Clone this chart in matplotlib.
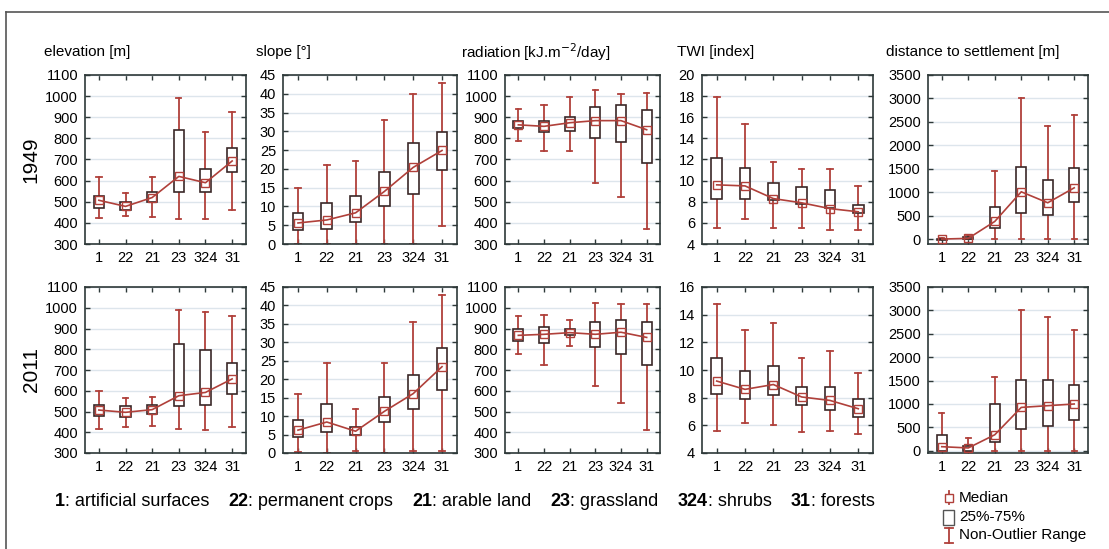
import matplotlib
matplotlib.use("Agg")
import matplotlib.pyplot as plt
from matplotlib.lines import Line2D
from matplotlib.patches import Rectangle

# land cover classes on the x axis
cats = ['1', '22', '21', '23', '324', '31']

# each row: whisker low, 25%, median, 75%, whisker high (one row per class)
elev_1949 = [(425, 470, 507, 525, 615), (432, 462, 478, 500, 540), (428, 500, 520, 545, 618),
             (420, 544, 620, 838, 990), (416, 544, 590, 655, 830), (463, 639, 693, 754, 925)]
slope_1949 = [(0, 3.8, 5.6, 8.2, 14.8), (0, 4.0, 6.4, 10.9, 21.1), (0, 5.8, 8.3, 12.7, 22.0),
              (0, 10.2, 14.0, 19.2, 33.0), (0, 13.2, 20.4, 27.0, 40.0), (4.9, 19.7, 24.9, 29.9, 42.8)]
rad_1949 = [(788, 847, 864, 884, 938), (741, 828, 857, 881, 957), (741, 836, 874, 900, 994),
            (590, 804, 884, 947, 1027), (523, 785, 884, 959, 1011), (372, 685, 841, 932, 1016)]
twi_1949 = [(5.55, 8.3, 9.6, 12.1, 17.9), (6.35, 8.3, 9.5, 11.2, 15.4), (5.5, 8.2, 8.3, 9.8, 11.8),
            (5.5, 7.8, 7.9, 9.4, 11.1), (5.35, 7.4, 7.35, 9.1, 11.1), (5.35, 6.9, 7.05, 7.7, 9.45)]
dist_1949 = [(0, -5, 5, 15, 30), (0, 0, 20, 40, 95), (0, 235, 380, 698, 1447),
             (0, 556, 1012, 1539, 3000), (0, 520, 778, 1268, 2405), (0, 798, 1097, 1518, 2640)]

elev_2011 = [(418, 477, 507, 530, 597), (424, 472, 496, 525, 565), (432, 489, 509, 530, 570),
             (417, 525, 576, 827, 988), (412, 530, 592, 798, 978), (424, 585, 657, 735, 959)]
slope_2011 = [(0.2, 4.4, 6.2, 8.9, 16.0), (0, 5.7, 8.4, 13.4, 24.3), (0.5, 4.8, 5.9, 7.1, 11.8),
              (0, 8.4, 11.3, 15.2, 24.5), (0.5, 11.8, 16.1, 21.1, 35.6), (0.5, 17.2, 23.4, 28.4, 42.7)]
rad_2011 = [(779, 839, 867, 896, 960), (725, 831, 872, 906, 965), (818, 868, 880, 896, 940),
            (621, 811, 872, 933, 1025), (540, 779, 882, 941, 1019), (410, 725, 857, 933, 1017)]
twi_2011 = [(5.6, 8.3, 9.2, 10.9, 14.8), (6.15, 7.9, 8.6, 9.9, 12.9), (6.0, 8.2, 8.95, 10.3, 13.4),
            (5.5, 7.5, 8.05, 8.8, 10.9), (5.6, 7.1, 7.8, 8.8, 11.35), (5.35, 6.6, 7.2, 7.9, 9.8)]
dist_2011 = [(0, 0, 85, 325, 810), (0, 0, 58, 108, 275), (0, 195, 340, 990, 1569),
             (0, 470, 925, 1518, 3000), (0, 520, 962, 1518, 2855), (0, 650, 998, 1410, 2588)]

titles = ['elevation [m]', 'slope [°]', 'radiation [kJ.m$^{-2}$/day]', 'TWI [index]',
          'distance to settlement [m]']
years = ['1949', '2011']

legend_nums = ['1', '22', '21', '23', '324', '31']
legend_names = ['artificial surfaces', 'permanent crops', 'arable land', 'grassland', 'shrubs', 'forests']

RED = '#b0403a'
BOXC = '#3a2828'
SPINE = '#2d3838'
GRID = '#dde5ec'
W, H = 1109, 549

rows = [[elev_1949, slope_1949, rad_1949, twi_1949, dist_1949],
        [elev_2011, slope_2011, rad_2011, twi_2011, dist_2011]]
ylims = [[(300, 1100), (0, 45), (300, 1100), (4, 20), (-100, 3500)],
         [(300, 1100), (0, 45), (300, 1100), (4, 16), (-50, 3500)]]
ysteps = [100, 5, 100, 2, 500]

# panel positions in pixels
xcols = [(85, 246), (283, 457), (505, 660), (702, 873), (928, 1088)]
yrows = [(75, 244), (287, 453)]
title_x = [44, 256, 461, 677, 886]

fig = plt.figure(figsize=(W / 100, H / 100), dpi=100)
fig.patch.set_facecolor('white')
plt.rcParams['font.family'] = ['Liberation Sans', 'DejaVu Sans']

for r, panels in enumerate(rows):
    y0, y1 = yrows[r]
    for c, data in enumerate(panels):
        x0, x1 = xcols[c]
        ax = fig.add_axes([x0 / W, 1 - y1 / H, (x1 - x0) / W, (y1 - y0) / H])
        stats = [dict(whislo=d[0], q1=d[1], med=d[2], q3=d[3], whishi=d[4]) for d in data]
        pos = list(range(1, len(cats) + 1))
        ax.bxp(stats, positions=pos, widths=0.38, capwidths=0.2, showfliers=False,
               patch_artist=True,
               boxprops=dict(facecolor='white', edgecolor=BOXC, linewidth=1.2, zorder=3),
               whiskerprops=dict(color=RED, linewidth=1.3, zorder=2),
               capprops=dict(color=RED, linewidth=1.3, zorder=2),
               medianprops=dict(visible=False))
        meds = [d[2] for d in data]
        ax.plot(pos, meds, color=RED, lw=1.2, marker='s', ms=5.5, mfc='none',
                mec=RED, mew=1.0, zorder=4)
        lo, hi = ylims[r][c]
        ax.set_ylim(lo, hi)
        ax.set_xlim(0.48, 6.52)
        step = ysteps[c]
        start = lo if lo >= 0 else 0
        ax.set_yticks([start + i * step for i in range(int((hi - start) / step) + 1)])
        ax.set_xticks(pos)
        ax.set_xticklabels(cats)
        ax.yaxis.grid(True, color=GRID, lw=1.0)
        ax.set_axisbelow(True)
        ax.tick_params(direction='in', length=3.5, width=1, color=SPINE,
                       top=True, right=True, labelsize=10.5, pad=5)
        for s in ax.spines.values():
            s.set_color(SPINE)
            s.set_linewidth(1.2)
        if r == 0:
            fig.text(title_x[c] / W, 1 - 52 / H, titles[c], fontsize=11,
                     ha='left', va='center')

fig.text(31 / W, 1 - 160 / H, years[0], rotation=90, fontsize=15, ha='center', va='center')
fig.text(31 / W, 1 - 370 / H, years[1], rotation=90, fontsize=15, ha='center', va='center')

# class legend along the bottom, built piece by piece
renderer = fig.canvas.get_renderer()
x = 55
ly = 1 - 501 / H
for num, name in zip(legend_nums, legend_names):
    t = fig.text(x / W, ly, num, fontsize=13, fontweight='bold', ha='left', va='center')
    x = t.get_window_extent(renderer).x1
    t = fig.text(x / W, ly, ': ' + name, fontsize=13, ha='left', va='center')
    x = t.get_window_extent(renderer).x1 + 19

# symbol key
kx = 949
fig.add_artist(Line2D([kx / W, kx / W], [1 - 491 / H, 1 - 504 / H], color=RED, lw=1.3))
fig.add_artist(Line2D([kx / W], [1 - 497.5 / H], marker='s', ms=5.5, mfc='white', mec=RED, mew=1.0))
fig.text(959 / W, 1 - 498 / H, 'Median', fontsize=11, ha='left', va='center')
fig.add_artist(Rectangle((943 / W, 1 - 525 / H), 11 / W, 15 / H, facecolor='white',
                         edgecolor='#555555', lw=1.0))
fig.text(959 / W, 1 - 517 / H, '25%-75%', fontsize=11, ha='left', va='center')
fig.add_artist(Line2D([kx / W, kx / W], [1 - 528 / H, 1 - 543 / H], color=RED, lw=1.3))
fig.add_artist(Line2D([(kx - 4) / W, (kx + 4) / W], [1 - 528 / H] * 2, color=RED, lw=1.3))
fig.add_artist(Line2D([(kx - 4) / W, (kx + 4) / W], [1 - 543 / H] * 2, color=RED, lw=1.3))
fig.text(959 / W, 1 - 535 / H, 'Non-Outlier Range', fontsize=11, ha='left', va='center')

# outer frame (left and top edges)
fig.add_artist(Line2D([6 / W, 6 / W], [0, 1 - 12 / H], color='#555555', lw=1.2))
fig.add_artist(Line2D([6 / W, 1], [1 - 12 / H] * 2, color='#555555', lw=1.2))

fig.savefig('out.png', dpi=100)
